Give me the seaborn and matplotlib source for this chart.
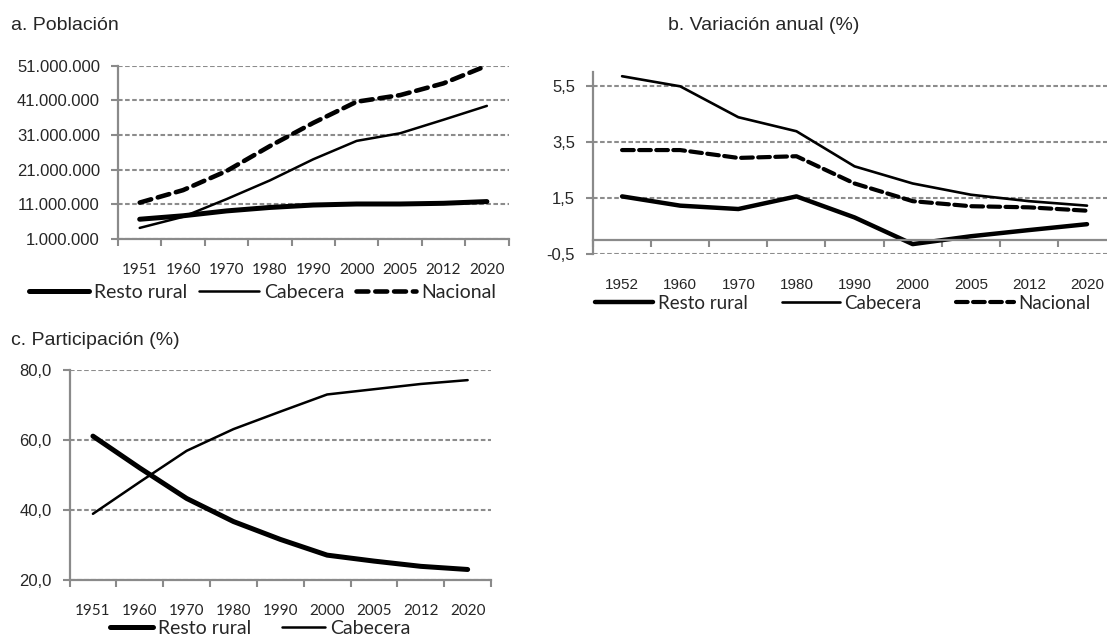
import numpy as np
import pandas as pd
import matplotlib
matplotlib.use("Agg")
import matplotlib.pyplot as plt
from matplotlib.ticker import FuncFormatter, FixedLocator, NullFormatter
import seaborn as sns

# ---------------- data ----------------
anios_a = ['1951', '1960', '1970', '1980', '1990', '2000', '2005', '2012', '2020']
anios_b = ['1952', '1960', '1970', '1980', '1990', '2000', '2005', '2012', '2020']

# a. Población (habitantes)
pob_rural = [6.7e6, 7.7e6, 9.1e6, 10.1e6, 10.8e6, 11.1e6, 11.1e6, 11.3e6, 11.8e6]
pob_cabecera = [4.2e6, 7.4e6, 12.5e6, 17.9e6, 24.0e6, 29.3e6, 31.5e6, 35.4e6, 39.4e6]
pob_nacional = [11.5e6, 15.1e6, 20.6e6, 27.8e6, 34.5e6, 40.6e6, 42.5e6, 45.9e6, 51.0e6]

# b. Variación anual (%)
var_rural = [1.56, 1.23, 1.11, 1.56, 0.81, -0.14, 0.14, 0.36, 0.57]
var_cabecera = [5.84, 5.48, 4.38, 3.88, 2.63, 2.02, 1.62, 1.39, 1.23]
var_nacional = [3.21, 3.21, 2.93, 2.99, 2.02, 1.39, 1.21, 1.17, 1.05]

# c. Participación (%)
part_rural = [61.1, 52.0, 43.3, 36.7, 31.6, 27.1, 25.4, 23.9, 23.0]
part_cabecera = [38.9, 48.0, 56.9, 63.1, 68.1, 73.0, 74.5, 76.0, 77.1]

# ---------------- style ----------------
sns.set_theme(style="white")
plt.rcParams['font.family'] = ['Liberation Sans', 'DejaVu Sans']

GRAY = '#8a8a8a'
GRID = '#8c8c8c'
TICK_FONT = 'Liberation Sans'
CAT_FONT = 'Lato'

fig = plt.figure(figsize=(11.07, 6.37), dpi=100)
fig.patch.set_facecolor('white')

ax_a = fig.add_axes([0.1066, 0.6248, 0.3528, 0.2721])
ax_b = fig.add_axes([0.5357, 0.6009, 0.4725, 0.2865])
ax_c = fig.add_axes([0.0628, 0.0895, 0.3808, 0.3297])

styles = {
    'Resto rural': dict(linewidth=3.6, linestyle='-'),
    'Cabecera': dict(linewidth=1.8, linestyle='-'),
    'Nacional': dict(linewidth=3.3, linestyle=(0, (2.6, 1.5))),
}
styles_b = {
    'Resto rural': dict(linewidth=3.2, linestyle='-'),
    'Cabecera': dict(linewidth=1.9, linestyle='-'),
    'Nacional': dict(linewidth=3.0, linestyle=(0, (2.8, 1.3))),
}


def draw_panel(ax, cats, data_dict, style_map):
    pos = np.arange(len(cats))
    for name, vals in data_dict.items():
        df = pd.DataFrame({'x': pos, 'y': vals})
        sns.lineplot(data=df, x='x', y='y', ax=ax, color='black', label=name,
                     solid_capstyle='round', solid_joinstyle='round',
                     dash_capstyle='round', legend=False, **style_map[name])
    ax.set_xlim(-0.5, len(cats) - 0.5)
    ax.set_xlabel('')
    ax.set_ylabel('')
    # tick marks at category boundaries
    ax.xaxis.set_major_locator(FixedLocator(np.arange(-0.5, len(cats), 1.0)))
    ax.xaxis.set_major_formatter(NullFormatter())
    ax.set_xticks(pos, labels=cats, minor=True, fontfamily=CAT_FONT, fontsize=11)
    ax.tick_params(axis='x', which='major', direction='out', length=5, width=1.5,
                   color=GRAY, bottom=True)
    ax.tick_params(axis='y', which='major', direction='out', length=5, width=1.5,
                   color=GRAY, left=True, labelsize=12, pad=8)
    for sp in ['top', 'right']:
        ax.spines[sp].set_visible(False)
    for sp in ['left', 'bottom']:
        ax.spines[sp].set_color(GRAY)
        ax.spines[sp].set_linewidth(1.6)
    ax.yaxis.grid(True, color=GRID, linestyle=(0, (2.2, 1.2)), linewidth=1.5)
    ax.xaxis.grid(False)
    ax.set_axisbelow(True)


# ---- panel a ----
draw_panel(ax_a, anios_a,
           {'Resto rural': pob_rural, 'Cabecera': pob_cabecera, 'Nacional': pob_nacional},
           styles)
ax_a.set_ylim(1e6, 51e6)
ax_a.set_yticks(np.arange(1e6, 51e6 + 1, 10e6))
ax_a.yaxis.set_major_formatter(FuncFormatter(lambda v, p: f"{v:,.0f}".replace(',', '.')))
ax_a.tick_params(axis='x', which='minor', length=0, pad=17)
ax_a.legend(loc='center', bbox_to_anchor=(0.2371, 0.5416), bbox_transform=fig.transFigure,
            ncol=3, frameon=False, prop={'family': CAT_FONT, 'size': 14},
            handlelength=3.1, handletextpad=0.25, columnspacing=0.6, borderpad=0)

# ---- panel b ----
draw_panel(ax_b, anios_b,
           {'Resto rural': var_rural, 'Cabecera': var_cabecera, 'Nacional': var_nacional},
           styles_b)
ax_b.set_ylim(-0.5, 6.0)
ax_b.set_yticks([-0.5, 1.5, 3.5, 5.5])
ax_b.yaxis.set_major_formatter(FuncFormatter(lambda v, p: f"{v:.1f}".replace('.', ',')))
ax_b.spines['bottom'].set_position(('data', 0))
ax_b.tick_params(axis='x', which='minor', length=0, pad=27)
ax_b.legend(loc='center', bbox_to_anchor=(0.7615, 0.524), bbox_transform=fig.transFigure,
            ncol=3, frameon=False, prop={'family': CAT_FONT, 'size': 13.5},
            handlelength=3.1, handletextpad=0.25, columnspacing=1.8, borderpad=0)

# ---- panel c ----
draw_panel(ax_c, anios_a,
           {'Resto rural': part_rural, 'Cabecera': part_cabecera},
           styles)
ax_c.set_ylim(20, 80)
ax_c.set_yticks([20, 40, 60, 80])
ax_c.yaxis.set_major_formatter(FuncFormatter(lambda v, p: f"{v:.1f}".replace('.', ',')))
ax_c.tick_params(axis='x', which='minor', length=0, pad=17)
ax_c.legend(loc='center', bbox_to_anchor=(0.2353, 0.0141), bbox_transform=fig.transFigure,
            ncol=2, frameon=False, prop={'family': CAT_FONT, 'size': 14},
            handlelength=2.2, handletextpad=0.25, columnspacing=1.6, borderpad=0)

for ax in (ax_a, ax_b, ax_c):
    for lbl in ax.get_yticklabels():
        lbl.set_fontfamily(TICK_FONT)

# ---- titles ----
fig.text(11 / 1107, 1 - 25 / 637, 'a. Población', ha='left', va='center', fontsize=14,
         family='Liberation Sans')
fig.text(668 / 1107, 1 - 25 / 637, 'b. Variación anual (%)', ha='left', va='center',
         fontsize=14, family='Liberation Sans')
fig.text(11 / 1107, 1 - 341 / 637, 'c. Participación (%)', ha='left', va='center',
         fontsize=14, family='Liberation Sans')

fig.savefig('out.png', dpi=100, facecolor='white')
